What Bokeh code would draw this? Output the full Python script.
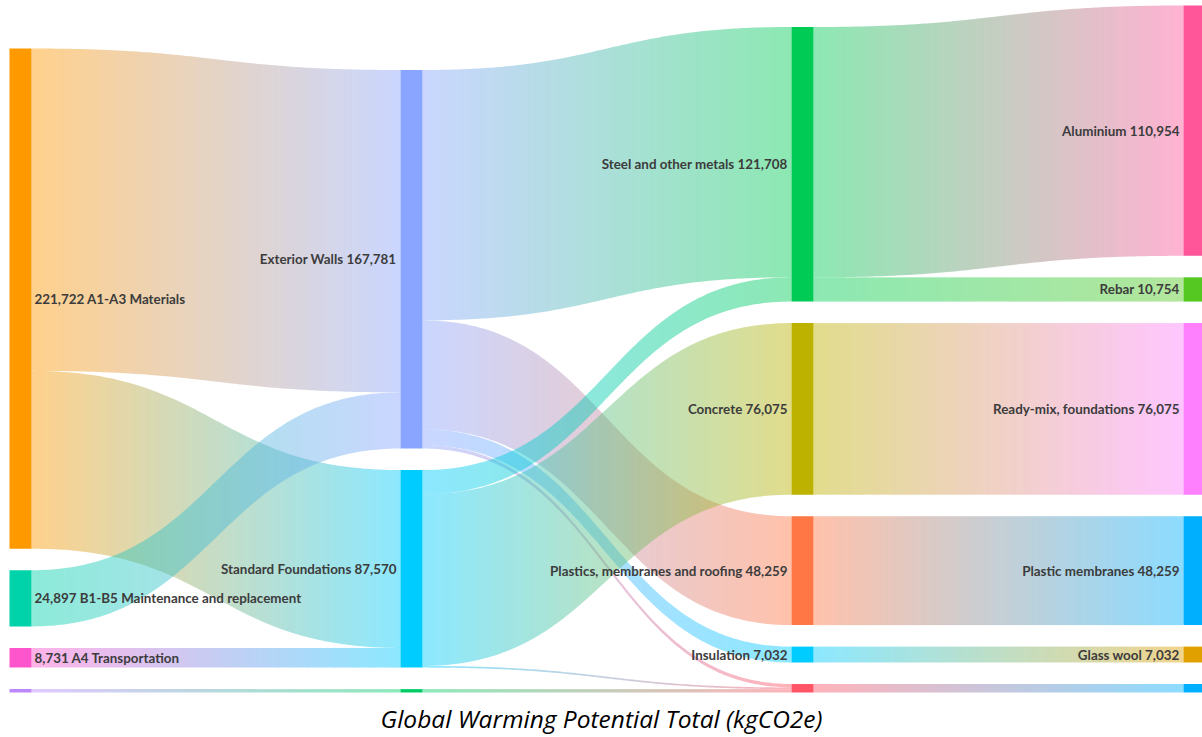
import numpy as np
from bokeh.plotting import figure
from bokeh.models import ColumnDataSource, Range1d, Label
from bokeh.core.properties import value
from bokeh.embed import file_html
from bokeh.resources import INLINE

# ---------------- data ----------------
node_names = ["A1-A3 Materials", "B1-B5 Maintenance and replacement", "A4 Transportation", "Other stages",
              "Exterior Walls", "Standard Foundations", "Other elements",
              "Steel and other metals", "Concrete", "Plastics, membranes and roofing", "Insulation", "Other materials",
              "Aluminium", "Rebar", "Ready-mix, foundations", "Plastic membranes", "Glass wool", "Other products"]
node_columns = [0, 0, 0, 0, 1, 1, 1, 2, 2, 2, 2, 2, 3, 3, 3, 3, 3, 3]
node_colors = ["#FF9900", "#00D2AA", "#FF55CC", "#BB88FF",
               "#8AA5FF", "#00CCFF", "#00CC66",
               "#00CC55", "#BDB200", "#FF7744", "#00CCFF", "#FF5566",
               "#FF5599", "#55C822", "#FF80FF", "#00B0FF", "#E0A000", "#00B0FF"]
node_labelled = [True, True, True, False, True, True, False,
                 True, True, True, True, False, True, True, True, True, True, False]

link_sources = [0, 0, 1, 2, 3, 4, 4, 4, 4, 5, 5, 5, 6, 7, 7, 8, 9, 10, 11]
link_targets = [4, 5, 4, 5, 6, 7, 9, 10, 11, 7, 8, 11, 11, 12, 13, 14, 15, 16, 17]
link_values = [142884, 78838, 24897, 8731, 1500, 110954, 48259, 7032, 1536,
               10754, 76075, 741, 1500, 110954, 10754, 76075, 48259, 7032, 3777]

title_text = "Global Warming Potential Total (kgCO2e)"

# ---------------- layout ----------------
W, H = 1202, 737
col_x = [9, 400, 791, 1183]
node_w = 22
gap = 21.5
bottom = 692
top_min = 5
link_alpha = 0.45
pix_shift = -0.5

n_nodes = len(node_names)
vin = np.zeros(n_nodes)
vout = np.zeros(n_nodes)
for s, t, v in zip(link_sources, link_targets, link_values):
    vout[s] += v
    vin[t] += v
node_val = np.maximum(vin, vout)

cols = sorted(set(node_columns))
col_nodes = {c: [i for i in range(n_nodes) if node_columns[i] == c] for c in cols}
k = min((bottom - top_min - (len(ns) - 1) * gap) / sum(node_val[i] for i in ns) for ns in col_nodes.values())

y0 = np.zeros(n_nodes)
y1 = np.zeros(n_nodes)
for c, ns in col_nodes.items():
    h = sum(node_val[i] for i in ns) * k + (len(ns) - 1) * gap
    y = bottom - h
    for i in ns:
        y0[i] = y
        y1[i] = y + node_val[i] * k
        y = y1[i] + gap

# link offsets
L = len(link_values)
ls0 = np.zeros(L); ls1 = np.zeros(L); lt0 = np.zeros(L); lt1 = np.zeros(L)
for i in range(n_nodes):
    outs = sorted([j for j in range(L) if link_sources[j] == i], key=lambda j: y0[link_targets[j]])
    y = y0[i]
    for j in outs:
        ls0[j] = y
        y += link_values[j] * k
        ls1[j] = y
    ins = sorted([j for j in range(L) if link_targets[j] == i], key=lambda j: y0[link_sources[j]])
    y = y0[i]
    for j in ins:
        lt0[j] = y
        y += link_values[j] * k
        lt1[j] = y


def hex2rgb(h):
    h = h.lstrip("#")
    return np.array([int(h[i:i + 2], 16) for i in (0, 2, 4)], dtype=float)


tt = np.linspace(0, 1, 2001)
xs_list, ys_list, cs_list = [], [], []
step = 3
for j in range(L):
    s, t = link_sources[j], link_targets[j]
    xa = col_x[node_columns[s]] + node_w
    xb = col_x[node_columns[t]]
    d = xb - xa
    xt_curve = xa + d * (1.5 * tt - 1.5 * tt ** 2 + tt ** 3)
    bx = np.arange(np.ceil(xa), np.floor(xb) + 0.001, step) + pix_shift
    bx = bx[(bx > xa) & (bx < xb)]
    bx = np.concatenate([[xa], bx, [xb]])
    tb = np.interp(bx, xt_curve, tt)
    sm = 3 * tb ** 2 - 2 * tb ** 3
    top = ls0[j] + (lt0[j] - ls0[j]) * sm
    bot = ls1[j] + (lt1[j] - ls1[j]) * sm
    ca = hex2rgb(node_colors[s])
    cb = hex2rgb(node_colors[t])
    for m in range(len(bx) - 1):
        u = ((bx[m] + bx[m + 1]) / 2 - xa) / d
        c = ca * (1 - u) + cb * u
        xs_list.append([bx[m], bx[m + 1], bx[m + 1], bx[m]])
        ys_list.append([top[m], top[m + 1], bot[m + 1], bot[m]])
        cs_list.append("#%02x%02x%02x" % tuple(int(round(v)) for v in c))

p = figure(width=W, height=H, x_range=Range1d(0, W), y_range=Range1d(H, 0),
           output_backend="svg", toolbar_location=None, min_border=0,
           x_axis_type=None, y_axis_type=None)
p.grid.visible = False
p.outline_line_color = None
p.background_fill_color = "white"
p.border_fill_color = "white"

p.patches(xs="xs", ys="ys", fill_color="c", fill_alpha=link_alpha, line_color=None,
          source=ColumnDataSource(dict(xs=xs_list, ys=ys_list, c=cs_list)))

nx = [col_x[node_columns[i]] for i in range(n_nodes)]
p.quad(left=nx, right=[x + node_w for x in nx], top=list(y0), bottom=list(y1),
       fill_color=node_colors, line_color=None)

lab_x, lab_y, lab_t, lab_a = [], [], [], []
for i in range(n_nodes):
    if not node_labelled[i]:
        continue
    v = int(node_val[i])
    yc = (y0[i] + y1[i]) / 2
    if node_columns[i] == 0:
        lab_x.append(nx[i] + node_w + 3)
        lab_t.append(f"{v:,} {node_names[i]}")
        lab_a.append("left")
    else:
        lab_x.append(nx[i] - 4)
        lab_t.append(f"{node_names[i]} {v:,}")
        lab_a.append("right")
    lab_y.append(yc)

p.text(x="x", y="y", text="t", text_align="a",
       source=ColumnDataSource(dict(x=lab_x, y=lab_y, t=lab_t, a=lab_a)),
       text_font=value("Lato"), text_font_style="bold", text_font_size="13.4px",
       text_color="#3c3c3c", text_baseline="middle")

p.add_layout(Label(x=W / 2, y=718, text=title_text, text_align="center", text_baseline="middle",
                   text_font="Open Sans", text_font_style="italic", text_font_size="24.5px",
                   text_color="#000000"))

open("out.html", "w").write(file_html(p, INLINE))
